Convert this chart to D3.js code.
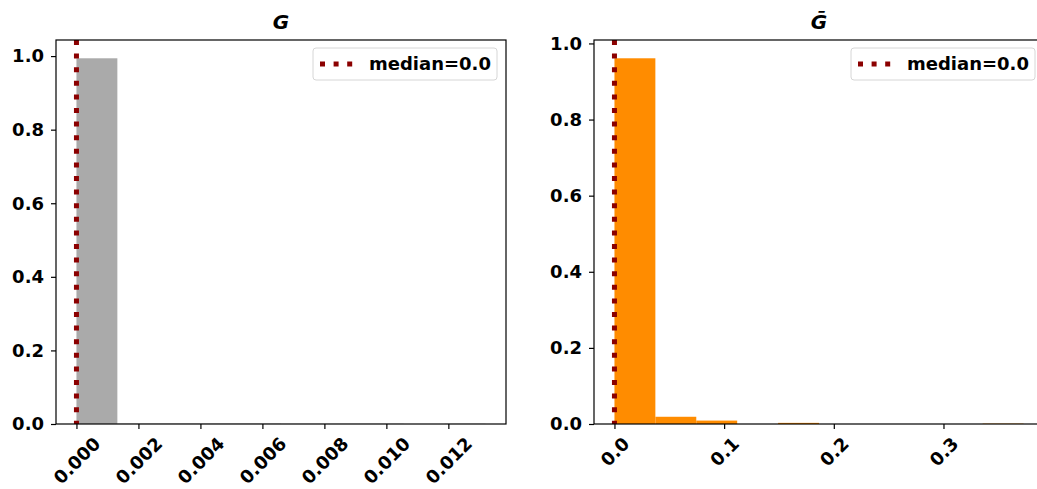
<!DOCTYPE html>
<html>
<head>
<meta charset="utf-8">
<script src="https://cdn.jsdelivr.net/npm/d3@7"></script>
<style>
  body { margin: 0; background: #fff; }
  svg text { font-family: "DejaVu Sans", sans-serif; font-weight: bold; }
</style>
</head>
<body>
<div id="chart"></div>
<script>
// histogram values (fraction of samples per bin)
const gValues = [0.994, 0.001, 0.001, 0.001, 0.001, 0.0005, 0.0005, 0.0005, 0, 0.0005];
const gBarValues = [0.961, 0.019, 0.009, 0, 0.003, 0, 0, 0, 0, 0.001];
const gMax = 0.0132;      // largest sample -> last bin edge
const gBarMax = 0.373;
const gTicks = [0.000, 0.002, 0.004, 0.006, 0.008, 0.010, 0.012];
const gBarTicks = [0.0, 0.1, 0.2, 0.3];
const yTicks = [0.0, 0.2, 0.4, 0.6, 0.8, 1.0];
const medians = [0.0, 0.0];

const W = 1037, H = 489;
const fs = 18;
const svg = d3.select('#chart').append('svg')
  .attr('width', W).attr('height', H);

let panels = [
  {left: 56, title: 'G', values: gValues, max: gMax, ticks: gTicks, fmt: d3.format('.3f'),
   color: '#aaaaaa', median: medians[0]},
  {left: 594, title: 'G\u0304', values: gBarValues, max: gBarMax, ticks: gBarTicks, fmt: d3.format('.1f'),
   color: '#ff8c00', median: medians[1]}
];

const axTop = 40, axBottom = 424, pw = 450;

panels.forEach(function(p, k) {
  let right = p.left + pw;
  let n = p.values.length;
  let bw = p.max / n;
  let bins = p.values.map((v, i) => ({x0: i * bw, x1: (i + 1) * bw, v: v}));

  let x = d3.scaleLinear().domain([-0.05 * p.max, 1.05 * p.max]).range([p.left, right]);
  let ymax = d3.max(p.values) * 1.05;
  let y = d3.scaleLinear().domain([0, ymax]).range([axBottom, axTop]);

  let g = svg.append('g');
  let clipId = 'clip' + k;
  g.append('clipPath').attr('id', clipId)
    .append('rect').attr('x', p.left).attr('y', axTop).attr('width', pw).attr('height', axBottom - axTop);

  let plot = g.append('g').attr('clip-path', 'url(#' + clipId + ')');

  // bars
  plot.selectAll('rect.bar').data(bins).enter().append('rect')
    .attr('class', 'bar')
    .attr('x', d => x(d.x0))
    .attr('width', d => x(d.x1) - x(d.x0))
    .attr('y', d => y(d.v))
    .attr('height', d => axBottom - y(d.v))
    .attr('fill', p.color);

  // median line
  plot.append('line')
    .attr('x1', x(p.median)).attr('x2', x(p.median))
    .attr('y1', axTop).attr('y2', axBottom)
    .attr('stroke', '#8b0000').attr('stroke-width', 5)
    .attr('stroke-dasharray', '5,8.6');

  // y axis
  let yAxis = d3.axisLeft(y).tickValues(yTicks).tickFormat(d3.format('.1f'))
    .tickSize(5).tickPadding(7).tickSizeOuter(0);
  let ya = g.append('g').attr('transform', 'translate(' + p.left + ',0)').call(yAxis);
  ya.select('.domain').remove();
  ya.selectAll('text').style('font-size', fs + 'px').attr('fill', '#000');
  ya.selectAll('line').attr('stroke', '#000').attr('stroke-width', 1.2);

  // x axis
  let xAxis = d3.axisBottom(x).tickValues(p.ticks).tickFormat(p.fmt)
    .tickSize(5).tickSizeOuter(0);
  let xa = g.append('g').attr('transform', 'translate(0,' + axBottom + ')').call(xAxis);
  xa.select('.domain').remove();
  xa.selectAll('line').attr('stroke', '#000').attr('stroke-width', 1.2);
  xa.selectAll('text')
    .style('font-size', fs + 'px').attr('fill', '#000')
    .attr('text-anchor', 'middle').attr('y', 0).attr('dy', '0.35em')
    .each(function() {
      let t = d3.select(this);
      let w = this.getComputedTextLength();
      let h = fs * 1.164;
      let cy = 9 + (w + h) / Math.SQRT2 / 2;
      t.attr('transform', 'translate(0,' + cy + ') rotate(-45)');
    });

  // spines
  g.append('rect')
    .attr('x', p.left).attr('y', axTop).attr('width', pw).attr('height', axBottom - axTop)
    .attr('fill', 'none').attr('stroke', '#000').attr('stroke-width', 1.2);

  // title
  g.append('text')
    .attr('x', p.left + pw / 2).attr('y', 29)
    .attr('text-anchor', 'middle')
    .style('font-size', '20px').style('font-style', 'italic')
    .text(p.title);

  // legend
  let lw = 184, lh = 32;
  let lx = right - 9 - lw, ly = 48;
  let leg = g.append('g').attr('transform', 'translate(' + lx + ',' + ly + ')');
  leg.append('rect')
    .attr('width', lw).attr('height', lh).attr('rx', 3)
    .attr('fill', 'rgba(255,255,255,0.8)').attr('stroke', '#d6d6d6').attr('stroke-width', 1);
  leg.append('line')
    .attr('x1', 7).attr('x2', 40).attr('y1', lh / 2).attr('y2', lh / 2)
    .attr('stroke', '#8b0000').attr('stroke-width', 5)
    .attr('stroke-dasharray', '5,8.6');
  leg.append('text')
    .attr('x', 56).attr('y', lh / 2).attr('dy', '0.36em')
    .style('font-size', fs + 'px')
    .text('median=' + p.median.toFixed(1));
});
</script>
</body>
</html>
